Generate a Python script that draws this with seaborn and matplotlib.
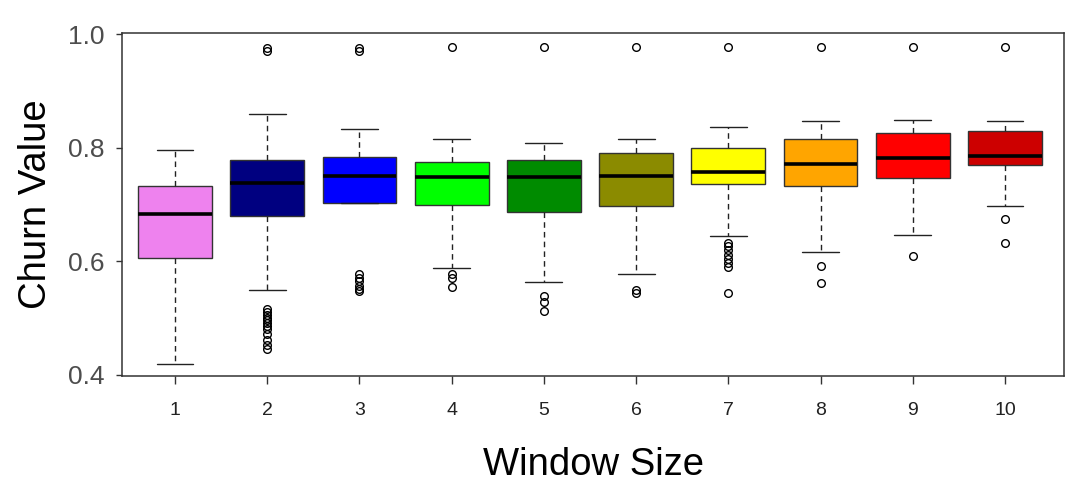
import pandas as pd
import seaborn as sns
import matplotlib
matplotlib.use('Agg')
import matplotlib.pyplot as plt

# Box statistics, one entry per window size.
window_sizes = ['1', '2', '3', '4', '5', '6', '7', '8', '9', '10']
q1_vals = [0.605, 0.679, 0.702, 0.699, 0.687, 0.697, 0.736, 0.732, 0.746, 0.770]
median_vals = [0.683, 0.738, 0.751, 0.748, 0.748, 0.750, 0.758, 0.771, 0.782, 0.785]
q3_vals = [0.733, 0.778, 0.784, 0.775, 0.778, 0.790, 0.800, 0.815, 0.826, 0.829]
whisker_low = [0.419, 0.550, 0.578, 0.588, 0.563, 0.577, 0.644, 0.616, 0.647, 0.697]
whisker_high = [0.796, 0.859, 0.833, 0.815, 0.808, 0.815, 0.837, 0.847, 0.849, 0.847]
outliers = [
    [],
    [0.975, 0.970, 0.516, 0.511, 0.506, 0.501, 0.496, 0.491, 0.486, 0.480,
     0.472, 0.462, 0.453, 0.445],
    [0.976, 0.971, 0.570, 0.565, 0.556, 0.551, 0.548],
    [0.977, 0.577, 0.571, 0.555],
    [0.977, 0.539, 0.529, 0.513],
    [0.977, 0.549, 0.545],
    [0.978, 0.633, 0.627, 0.619, 0.611, 0.604, 0.597, 0.590, 0.544],
    [0.977, 0.591, 0.561],
    [0.977, 0.609],
    [0.977, 0.674, 0.632],
]
box_colors = ['#EE82EE', '#000080', '#0000FF', '#00FF00', '#008B00',
              '#8B8B00', '#FFFF00', '#FFA500', '#FF0000', '#CD0000']

# Rebuild a sample per window size whose quartiles / whiskers reproduce the
# box statistics above (quartile values repeated so numpy lands on them).
records = []
for i, ws in enumerate(window_sizes):
    vals = [whisker_low[i], whisker_high[i]]
    vals += [q1_vals[i]] * 40 + [median_vals[i]] * 40 + [q3_vals[i]] * 40
    vals += outliers[i]
    for v in vals:
        records.append({'window': ws, 'churn': v})
df = pd.DataFrame(records)

sns.set_theme(style='ticks')
plt.rcParams['font.family'] = ['Liberation Sans', 'DejaVu Sans']

fig = plt.figure(figsize=(10.91, 5.0), dpi=100)
ax = fig.add_axes([0.1118, 0.248, 0.8635, 0.686])

sns.boxplot(data=df, x='window', y='churn', order=window_sizes,
            hue='window', hue_order=window_sizes, palette=box_colors,
            legend=False, saturation=1, width=0.8, whis=1.5, ax=ax,
            linewidth=1.0, linecolor='#333333',
            medianprops=dict(color='black', linewidth=2.6),
            whiskerprops=dict(color='#222222', linestyle=(0, (4, 3)), linewidth=1.0),
            capprops=dict(color='#222222', linewidth=1.0),
            flierprops=dict(marker='o', markersize=5.5, markerfacecolor='none',
                            markeredgecolor='black', markeredgewidth=1.0))

ax.set_xlim(-0.575, 9.64)
ax.set_ylim(0.398, 1.002)
ax.set_yticks([0.4, 0.6, 0.8, 1.0])
ax.set_yticklabels(['0.4', '0.6', '0.8', '1.0'])

for side in ['top', 'right', 'left', 'bottom']:
    ax.spines[side].set_visible(True)
    ax.spines[side].set_color('#333333')
    ax.spines[side].set_linewidth(1.1)

ax.tick_params(axis='y', labelsize=19, labelcolor='#4D4D4D', length=4.5,
               width=1.0, color='#333333', pad=8)
ax.tick_params(axis='x', labelsize=14, labelcolor='#222222', length=6,
               width=1.0, color='#333333', pad=13)

ax.set_xlabel('Window Size', fontsize=27.5, color='black', labelpad=20)
ax.set_ylabel('Churn Value', fontsize=27.5, color='black', labelpad=10)

fig.savefig('out.png', dpi=100)
